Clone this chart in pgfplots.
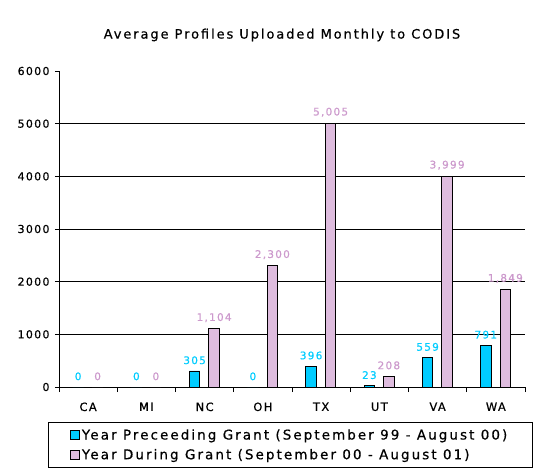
\documentclass[border=0pt]{standalone}
\usepackage{pgfplots}
\pgfplotsset{compat=1.18}
\usepackage{fontspec}
\setmainfont[LetterSpace=12,FakeBold=0.6]{DejaVu Sans}
\newfontfamily\titlefont[LetterSpace=15,FakeBold=0.6]{DejaVu Sans}
\newfontfamily\legfont[LetterSpace=15.5,FakeBold=0.6]{DejaVu Sans}
\definecolor{cyanbar}{RGB}{0,204,255}
\definecolor{pinklab}{RGB}{204,153,204}
\definecolor{pinkbar}{RGB}{222,188,222}
\begin{document}
\begin{tikzpicture}
\useasboundingbox (-59bp,-85bp) rectangle (481bp,387bp);
\begin{axis}[
  scale only axis,
  width=466bp, height=316bp,
  at={(0,0)}, anchor=south west,
  xmin=-0.5, xmax=7.5,
  ymin=0, ymax=6000,
  axis x line*=bottom,
  axis y line*=left,
  axis line style={black, line width=0.8pt},
  xtick={0,...,7},
  xticklabels={CA,MI,NC,OH,TX,UT,VA,WA},
  major x tick style={draw=none},
  minor xtick={-0.5,0.5,...,7.5},
  minor tick length=5bp,
  tick align=outside,
  ytick={0,1000,...,6000},
  major tick length=4bp,
  tick style={black, line width=0.6pt},
  extra y ticks={1000,2000,3000,4000,5000},
  extra y tick labels={},
  extra y tick style={grid=major, major tick length=0pt, major grid style={black, line width=0.7pt}},
  /pgf/number format/assume math mode=true,
  y tick label style={font=\fontsize{11}{12}\selectfont, /pgf/number format/1000 sep={}, xshift=-2bp},
  x tick label style={font=\fontsize{11.5}{13}\selectfont, yshift=-8bp},
  title={\titlefont Average Profiles Uploaded Monthly to CODIS},
  title style={at={(0.4785,1.095)}, anchor=center, font=\fontsize{13}{15}\selectfont},
  ybar, bar width=10.5bp,
  nodes near coords={\pgfmathprintnumber[1000 sep={,},fixed]{\pgfplotspointmeta}},
  every node near coord/.append style={font=\fontsize{10.5}{12}\selectfont, anchor=south, yshift=3bp},
  legend style={at={(-0.0236,-0.1108)}, anchor=north west, draw=black, line width=0.6pt,
    font=\fontsize{13.5}{15}\legfont, inner xsep=22bp, inner ysep=5bp, row sep=4bp},
  legend cell align=left,
  legend image code/.code={\draw[#1, line width=0.6pt] (0bp,-4bp) rectangle (9bp,5bp);},
]
\addplot[fill=cyanbar, draw=black, line width=0.8pt, bar shift=-10bp,
  every node near coord/.append style={text=cyanbar}]
  coordinates {(0,0) (1,0) (2,305) (3,0) (4,396) (5,23) (6,559) (7,791)};
\addlegendentry{\makebox[426bp][l]{Year Preceeding Grant (September 99 - August 00)}}
\addplot[fill=pinkbar, draw=black, line width=0.8pt, bar shift=9.5bp,
  every node near coord/.append style={text=pinklab}]
  coordinates {(0,0) (1,0) (2,1104) (3,2300) (4,5005) (5,208) (6,3999) (7,1849)};
\addlegendentry{\makebox[426bp][l]{Year During Grant (September 00 - August 01)}}
\end{axis}
\end{tikzpicture}
\end{document}
